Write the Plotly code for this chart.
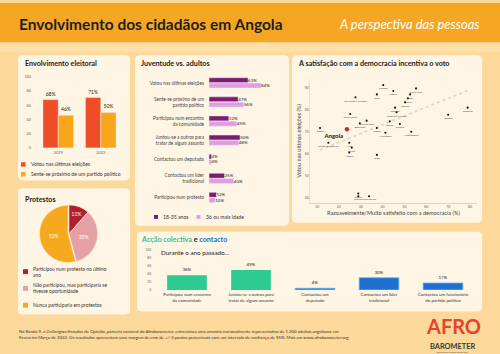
import numpy as np
import plotly.graph_objects as go

W, H = 500, 354
def X(p): return p / W
def Y(p): return 1 - p / H

FONT = "Lato"

# ---------------- DATA ----------------
years = ["2019", "2022"]
voted = [68, 71]
close_party = [46, 50]

youth_cats = ["Votou nas últimas eleições",
              "Sente-se próximo de um<br>partido político",
              "Participou num encontro<br>da comunidade",
              "Juntou-se a outros para<br>tratar de algum assunto",
              "Contactou um deputado",
              "Contactou um líder<br>tradicional",
              "Participou num protesto"]
youth = [63, 47, 32, 50, 4, 25, 12]
adults = [84, 56, 45, 48, 4, 40, 10]

countries = ["Gâmbia", "Libéria", "Serra Leoa", "Gana", "São Tomé e Príncipe", "Níger",
             "Malawi", "Zâmbia", "Senegal", "Costa do Marfim", "Tanzânia", "Etiópia",
             "Cabo Verde", "Burkina Faso", "Botsuana", "Gabão", "Benim", "Quénia",
             "Lesoto", "Mauritânia", "Moçambique", "Congo-Brazzaville", "Mali", "Guiné",
             "Nigéria", "Togo", "Sudão", "Tunísia", "África do Sul"]
satisfaction = [40.3, 44.9, 55.3, 37.4, 27.6, 52.6, 51.6, 50.3, 45.7, 46.4, 78.9, 70.0,
                25.2, 32.7, 29.6, 11.4, 43.3, 47.9, 37.4, 41.3, 53.1, 15.2, 24.8, 25.9,
                24.8, 37.4, 28.9, 28.9, 33.8]
voted_pct = [91.2, 88.5, 89.7, 87.0, 85.7, 87.0, 85.2, 83.4, 81.0, 78.9, 81.0, 77.8,
             78.1, 75.1, 73.9, 71.8, 74.8, 73.6, 71.8, 69.6, 70.1, 65.1, 65.1, 62.9,
             60.7, 59.6, 42.1, 40.9, 40.9]
angola_name = "Angola"
angola_satisfaction = 23.7
angola_voted = 71.2

protest_labels = ["Participou num protesto no último ano",
                  "Não participou, mas participaria se tivesse oportunidade",
                  "Nunca participaria em protestos"]
protest_vals = [11, 33, 52]

action_cats = ["Participou num encontro<br>da comunidade",
               "Juntou-se a outros para<br>tratar de algum assunto",
               "Contactou um<br>deputado",
               "Contactou um líder<br>tradicional",
               "Contactou um funcionário<br>do partido político"]
action_vals = [36, 49, 4, 30, 17]

# ---------------- COLOURS ----------------
C_BG = "#FCD89B"
C_HEAD = "#F5A623"
C_PANEL = "#FEF5E5"
C_RED = "#EF4D27"
C_ORANGE = "#F9A61A"
C_DPURPLE = "#7D1C70"
C_LPURPLE = "#E39CDD"
C_PDARK = "#B0202F"
C_PPINK = "#E6A1A6"
C_PORANGE = "#F6A91F"
C_TEAL = "#2DCB92"
C_BLUE = "#1F6FD1"
C_TXT = "#222222"
C_GREY = "#666666"

fig = go.Figure()

# Panel 1: electoral engagement
fig.add_trace(go.Bar(x=years, y=voted, width=0.36, offset=-0.36, marker_color=C_RED,
                     text=[f"{v}%" for v in voted], textposition="outside",
                     textfont=dict(size=5, color=C_TXT), cliponaxis=False,
                     xaxis="x", yaxis="y", showlegend=False))
fig.add_trace(go.Bar(x=years, y=close_party, width=0.36, offset=0, marker_color=C_ORANGE,
                     text=[f"{v}%" for v in close_party], textposition="outside",
                     textfont=dict(size=5, color=C_TXT), cliponaxis=False,
                     xaxis="x", yaxis="y", showlegend=False))

# Panel 2: youth vs adults
rows = list(range(len(youth_cats)))
fig.add_trace(go.Bar(y=rows, x=youth, orientation="h", width=0.26, offset=-0.27,
                     marker_color=C_DPURPLE, text=[f"{v}%" for v in youth],
                     textposition="outside", textfont=dict(size=4.5, color=C_TXT),
                     cliponaxis=False, xaxis="x2", yaxis="y2", showlegend=False))
fig.add_trace(go.Bar(y=rows, x=adults, orientation="h", width=0.26, offset=0.01,
                     marker_color=C_LPURPLE, text=[f"{v}%" for v in adults],
                     textposition="outside", textfont=dict(size=4.5, color=C_TXT),
                     cliponaxis=False, xaxis="x2", yaxis="y2", showlegend=False))

# Panel 3: scatter
all_x = np.array(satisfaction + [angola_satisfaction])
all_y = np.array(voted_pct + [angola_voted])
k, b = np.polyfit(all_x, all_y, 1)
xs = np.array([all_x.min(), all_x.max()])
fig.add_trace(go.Scatter(x=xs, y=k * xs + b, mode="lines",
                         line=dict(color="#DCD6CC", width=1.8, dash="dot"),
                         xaxis="x3", yaxis="y3", showlegend=False, hoverinfo="skip"))
fig.add_trace(go.Scatter(x=satisfaction, y=voted_pct, mode="markers+text", text=countries,
                         textposition="bottom center",
                         textfont=dict(size=2.6, color="#444444"),
                         marker=dict(size=2.1, color="#111111"),
                         xaxis="x3", yaxis="y3", showlegend=False, cliponaxis=False))
fig.add_trace(go.Scatter(x=[angola_satisfaction], y=[angola_voted], mode="markers+text",
                         text=[f"<b>{angola_name}</b>"], textposition="bottom left",
                         textfont=dict(size=6, color="#111111"),
                         marker=dict(size=4.5, color="#C62E2E"),
                         xaxis="x3", yaxis="y3", showlegend=False, cliponaxis=False))

# Panel 4: protests pie
fig.add_trace(go.Pie(values=protest_vals, labels=protest_labels, sort=False,
                     direction="clockwise", rotation=0,
                     marker=dict(colors=[C_PDARK, C_PPINK, C_PORANGE],
                                 line=dict(color=C_PANEL, width=0.5)),
                     pull=[0, 0, 0.03],
                     text=[f"{v}%" for v in protest_vals], textinfo="text",
                     textposition="inside", insidetextorientation="horizontal",
                     textfont=dict(size=5, color="white"),
                     domain=dict(x=[X(39), X(99)], y=[Y(264), Y(204)]),
                     showlegend=False))

# Panel 5: collective action
fig.add_trace(go.Bar(x=list(range(len(action_cats))), y=action_vals, width=0.62,
                     marker=dict(color=[C_TEAL, C_TEAL, C_BLUE, C_BLUE, C_BLUE],
                                 line=dict(color=["rgba(0,0,0,0)", "rgba(0,0,0,0)",
                                                  "#5DB6F2", "#5DB6F2", "#5DB6F2"], width=0.8)),
                     text=[f"{v}%" for v in action_vals], textposition="outside",
                     textfont=dict(size=4.5, color=C_TXT), cliponaxis=False,
                     xaxis="x4", yaxis="y4", showlegend=False))

# ---------------- SHAPES ----------------
def rounded(x0, y0, x1, y1, r=5):
    rx, ry = r / W, r / H
    a, c = X(x0), X(x1)
    t, bt = Y(y0), Y(y1)
    return (f"M {a+rx},{t} L {c-rx},{t} Q {c},{t} {c},{t-ry} L {c},{bt+ry} "
            f"Q {c},{bt} {c-rx},{bt} L {a+rx},{bt} Q {a},{bt} {a},{bt+ry} "
            f"L {a},{t-ry} Q {a},{t} {a+rx},{t} Z")

shapes = []
shapes.append(dict(type="rect", xref="paper", yref="paper", x0=0, x1=1, y0=Y(40), y1=1,
                   fillcolor=C_HEAD, line=dict(width=0), layer="below"))
shapes.append(dict(type="rect", xref="paper", yref="paper", x0=0, x1=1, y0=Y(50), y1=Y(40),
                   fillcolor="#FDDFAA", line=dict(width=0), layer="below"))
for (x0, y0, x1, y1) in [(18, 53, 130, 180), (135, 53, 289, 226), (292, 53, 482, 223),
                         (18, 188, 130, 316), (137, 232, 482, 313)]:
    shapes.append(dict(type="path", xref="paper", yref="paper", path=rounded(x0, y0, x1, y1),
                       fillcolor=C_PANEL, line=dict(width=0), layer="below"))

def swatch(x0, y0, s, color):
    shapes.append(dict(type="rect", xref="paper", yref="paper", x0=X(x0), x1=X(x0 + s),
                       y0=Y(y0 + s), y1=Y(y0), fillcolor=color, line=dict(width=0)))

swatch(21, 161.5, 4.5, C_RED)
swatch(21, 171.5, 4.5, C_ORANGE)
swatch(154, 215, 4, C_DPURPLE)
swatch(196.5, 215, 4, C_LPURPLE)
swatch(23, 270, 5, C_PDARK)
swatch(23, 287, 5, C_PPINK)
swatch(23, 304, 5, C_PORANGE)

# ---------------- ANNOTATIONS ----------------
ann = []
def text(x, y, s, size, color=C_TXT, anchor="left", bold=False, italic=False, yanchor="middle"):
    if bold:
        s = f"<b>{s}</b>"
    if italic:
        s = f"<i>{s}</i>"
    ann.append(dict(x=X(x), y=Y(y), xref="paper", yref="paper", text=s, showarrow=False,
                    xanchor=anchor, yanchor=yanchor, align=anchor if anchor != "center" else "center",
                    font=dict(size=size, color=color, family=FONT)))

text(17, 21, "Envolvimento dos cidadãos em Angola", 15.5, "#1E1E1E", bold=True)
text(481, 21, "A perspectiva das pessoas", 13, "white", anchor="right", italic=True)

text(23, 61, "Envolvimento eleitoral", 7.2, bold=True)
text(139, 61, "Juventude vs. adultos", 7.2, bold=True)
text(296, 61, "A satisfação com a democracia incentiva o voto", 7.2, bold=True)
text(23, 199, "Protestos", 7.2, bold=True)
ann.append(dict(x=X(139), y=Y(240), xref="paper", yref="paper", showarrow=False,
                xanchor="left", yanchor="middle",
                text=(f"<b><span style='color:#35BFA0'>Acção colectiva</span> "
                      f"<span style='color:{C_TXT}'>e</span> "
                      f"<span style='color:{C_BLUE}'>contacto</span></b>"),
                font=dict(size=7.2, family=FONT)))
text(159, 253, "Durante o ano passado...", 6.3)

text(28.5, 163.8, "Votou nas últimas eleições", 5.1, "#333333")
text(28.5, 173.8, "Sente-se próximo de um partido político", 5.1, "#333333")
text(161, 217, "18-35 anos", 5.1, "#333333")
text(203.5, 217, "36 ou mais idade", 5.1, "#333333")
text(31, 273, "Participou num protesto no último<br>ano", 4.9, "#333333")
text(31, 289.5, "Não participou, mas participaria se<br>tivesse oportunidade", 4.9, "#333333")
text(31, 306.5, "Nunca participaria em protestos", 4.9, "#333333")

text(17, 333, "Na Ronda 9, a Ovilongwa-Estudos de Opinião, parceira nacional do Afrobarometer, "
              "entrevistou uma amostra nacionalmente representativa de 1.200 adultos angolanos em",
     4.3, "#333333")
text(17, 339.5, "Fevereiro-Março de 2022. Os resultados apresentam uma margem de erro de +/-3 pontos "
                "percentuais com um intervalo de confiança de 95%. Mais em www.afrobarometer.org.",
     4.3, "#333333")

text(453, 341.5, "AFRO", 20, "#E8432B", anchor="center", bold=True, yanchor="bottom")
text(452, 341.5, "BAROMETER", 7.4, "#3A3A3A", anchor="center", bold=True, yanchor="top")
text(452, 350.8, "Deixe que o povo tenha voz", 2.5, "#555555", anchor="center", yanchor="top")

# ---------------- LAYOUT ----------------
tick_small = dict(size=4, color=C_GREY, family=FONT)
fig.update_layout(
    width=W, height=H, margin=dict(l=0, r=0, t=0, b=0),
    paper_bgcolor=C_BG, plot_bgcolor="rgba(0,0,0,0)",
    font=dict(family=FONT, color=C_TXT),
    shapes=shapes, annotations=ann,
    xaxis=dict(domain=[X(37), X(122)], range=[-0.5, 1.5], type="category",
               tickfont=tick_small, showgrid=False, zeroline=False, showline=False,
               ticks="", ticklabelstandoff=1),
    yaxis=dict(domain=[Y(147), Y(75)], range=[0, 100], tickvals=[0, 20, 40, 60, 80, 100],
               ticksuffix="%", tickfont=dict(size=3.8, color=C_GREY, family=FONT),
               showgrid=False, zeroline=False, ticks="", ticklabelstandoff=5),
    xaxis2=dict(domain=[X(209), X(271)], range=[0, 100], visible=False),
    yaxis2=dict(domain=[Y(207), Y(71.3)], range=[6.5, -0.5], tickvals=rows, ticktext=youth_cats,
                tickfont=dict(size=4.7, color="#444444", family=FONT), showgrid=False,
                zeroline=False, ticks="", ticklabelstandoff=4, anchor="x2"),
    xaxis3=dict(domain=[X(310.4), X(476.6)], range=[7, 83], tickvals=list(range(10, 90, 10)),
                tickfont=dict(size=3.5, color=C_GREY, family=FONT), showgrid=False,
                zeroline=False, showline=True, linecolor="#D8D2C8", linewidth=0.8, ticks="",
                title=dict(text="Razoavelmente/Muito satisfeito com a democracia (%)",
                           font=dict(size=5.6, color="#444444", family=FONT), standoff=3),
                anchor="y3"),
    yaxis3=dict(domain=[Y(202.5), Y(77)], range=[38, 94], tickvals=list(range(40, 100, 10)),
                tickfont=dict(size=3.5, color=C_GREY, family=FONT), showgrid=False,
                zeroline=False, showline=True, linecolor="#E6E0D6", linewidth=0.6, ticks="",
                title=dict(text="Votou nas últimas eleições (%)",
                           font=dict(size=5.6, color="#444444", family=FONT), standoff=2),
                anchor="x3"),
    xaxis4=dict(domain=[X(155), X(475)], range=[-0.5, 4.5], tickvals=list(range(len(action_cats))),
                ticktext=action_cats, tickfont=dict(size=4.4, color="#333333", family=FONT),
                showgrid=False, zeroline=False, ticks="", ticklabelstandoff=1, anchor="y4"),
    yaxis4=dict(domain=[Y(291), Y(250)], range=[0, 100], tickvals=[0, 20, 40, 60, 80, 100],
                ticksuffix="%", tickfont=dict(size=3.2, color=C_GREY, family=FONT),
                showgrid=False, zeroline=False, ticks="", ticklabelstandoff=3, anchor="x4"),
)

fig.write_html("out.html")
